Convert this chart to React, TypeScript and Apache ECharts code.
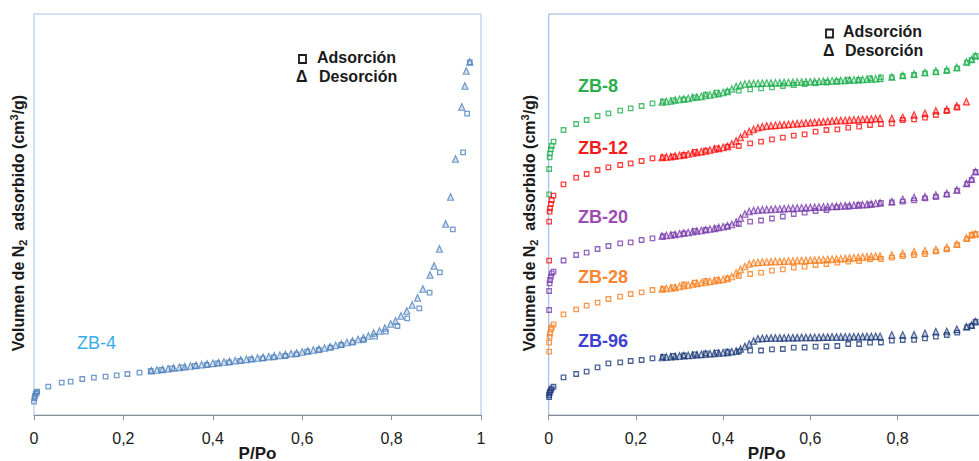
import React, { useEffect, useRef } from 'react';
import * as echarts from 'echarts';

// ---------- Left chart: ZB-4 ----------
const ADS_P_L = [0, 0.001, 0.002, 0.004, 0.006, 0.007, 0.032, 0.062, 0.082, 0.108, 0.134, 0.160, 0.185, 0.209, 0.236, 0.261, 0.285, 0.309, 0.333, 0.360, 0.386, 0.410, 0.436, 0.461, 0.485, 0.511, 0.536, 0.562, 0.587, 0.611, 0.637, 0.663, 0.687, 0.713, 0.737, 0.763, 0.787, 0.813, 0.835, 0.862, 0.885, 0.908, 0.937, 0.960, 0.969, 0.975];
const ZB4_ADS = [13.3, 16.7, 19, 21, 22.3, 23.3, 28.3, 32.3, 33.3, 36, 37.3, 38.3, 39.7, 41, 42.3, 44, 45, 46.7, 47.7, 49, 50, 51.7, 52.7, 54, 55.7, 56.7, 57.7, 59, 60.7, 63.3, 65, 67.3, 70, 72.3, 75, 78.3, 83.3, 89, 96.7, 106.7, 122.3, 142.7, 185.7, 262.7, 301.3, 352.7];
const DES_P_L = [0.2625, 0.275, 0.2875, 0.300, 0.3125, 0.325, 0.3375, 0.350, 0.3625, 0.375, 0.3875, 0.400, 0.4125, 0.425, 0.4375, 0.450, 0.4625, 0.475, 0.4875, 0.500, 0.5125, 0.525, 0.5375, 0.550, 0.5625, 0.575, 0.5875, 0.600, 0.6125, 0.625, 0.6375, 0.650, 0.6625, 0.675, 0.6875, 0.700, 0.7125, 0.725, 0.737, 0.748, 0.760, 0.773, 0.785, 0.798, 0.809, 0.821, 0.834, 0.846, 0.858, 0.870, 0.886, 0.895, 0.907, 0.921, 0.932, 0.943, 0.957, 0.964, 0.967, 0.975];
const ZB4_DES = [44.3, 45, 45.7, 46.3, 47, 47.7, 48.3, 49, 49.7, 50.3, 51, 51.7, 52.3, 53, 53.7, 54.3, 55, 55.7, 56.3, 57, 57.7, 58.3, 59, 59.7, 60.5, 61.3, 62, 63, 64, 65, 66, 67, 68.3, 69.5, 71, 72.5, 74, 75.5, 77, 79, 82, 84, 87, 91, 94, 99, 104, 110, 117, 126, 140, 149, 166, 191, 218, 256, 308, 329, 344, 353];

// ---------- Right chart: ZB-8 / 12 / 20 / 28 / 96 ----------
const ADS_P_R = [0.001, 0.001, 0.002, 0.003, 0.005, 0.007, 0.011, 0.034, 0.063, 0.087, 0.112, 0.137, 0.164, 0.188, 0.213, 0.238, 0.262, 0.286, 0.310, 0.335, 0.360, 0.385, 0.410, 0.436, 0.462, 0.487, 0.512, 0.537, 0.562, 0.587, 0.612, 0.637, 0.662, 0.687, 0.712, 0.737, 0.762, 0.787, 0.812, 0.838, 0.863, 0.888, 0.913, 0.937, 0.960, 0.970, 0.979];
const ZB8_ADS = [220.7, 246, 257.7, 261.7, 265.7, 269, 273.3, 285, 291, 295, 299, 301.7, 304.3, 306.7, 309, 311.7, 313.3, 314.7, 315.7, 317.7, 320.3, 322.3, 323.3, 324.3, 325.7, 326.7, 327.7, 329, 330, 331, 331.7, 332.5, 333.5, 335, 335, 336.7, 337.7, 337.7, 339, 340, 341.7, 342.7, 344, 346.7, 352.3, 355, 359];
const ZB12_ADS = [154.3, 193.3, 203.3, 206.7, 211, 215, 219.3, 230.7, 237.3, 241, 245, 247.7, 250, 251.7, 254, 256.7, 257.7, 258.3, 260, 263, 264.3, 266.7, 268.3, 269, 271.7, 273.3, 275.7, 277.3, 279.3, 280.7, 283.3, 285, 285.7, 287.3, 288.3, 290, 291, 291.7, 295, 295.7, 297.3, 300, 304, 307.5, null, null, null];
const ZB20_ADS = [105, 124, 131.7, 135, 138.3, 141.7, 143.3, 154.5, 160, 162.3, 166, 169, 171.7, 172.7, 175, 176.7, 178.5, 180.3, 181.7, 184, 185, 186.7, 188.3, 191, 193.3, 194.5, 196.5, 198.5, 201, 202.3, 204, 205, 207.7, 208.3, 210, 210.5, 212, 212.7, 213.3, 214.7, 216.7, 218, 220.3, 224.3, 231, 235, 243];
const ZB28_ADS = [63.3, 72.3, 78.3, 81.7, 85.7, 87.7, 90.7, 100.7, 105.7, 109.3, 112.3, 116, 118.3, 121, 122.7, 125, 126, 127.7, 130.5, 132.3, 134, 135, 136.7, 139, 141, 142.3, 144.3, 145.7, 147.3, 148.3, 150, 151, 152.3, 153.3, 154, 155.7, 156, 157.3, 159, 160, 161, 163.3, 165.7, 170, 176, 180, 181];
const ZB96_ADS = [18, 20, 22, 23.3, 25, 26.7, 28.3, 37.7, 41, 43.3, 47.7, 51.7, 52.7, 54, 55, 56.7, 58, 59, 59.5, 60.7, 61.7, 62.3, 63.3, 63.5, 64.3, 64.5, 65.7, 66, 67.3, 67.5, 68.3, 68.5, 69, 71, 71, 72.3, 72.5, 74.3, 75, 75.2, 76.7, 78.3, 80, 82.3, 87.7, 89, 93.3];

const DES_P_R = [0.26, 0.27, 0.28, 0.29, 0.30, 0.31, 0.32, 0.33, 0.34, 0.35, 0.36, 0.37, 0.38, 0.39, 0.40, 0.41, 0.42, 0.43, 0.44, 0.45, 0.46, 0.47, 0.48, 0.49, 0.50, 0.51, 0.52, 0.53, 0.54, 0.55, 0.56, 0.57, 0.58, 0.59, 0.60, 0.61, 0.62, 0.63, 0.64, 0.65, 0.66, 0.67, 0.68, 0.69, 0.70, 0.71, 0.72, 0.73, 0.74, 0.75, 0.76, 0.787, 0.812, 0.838, 0.863, 0.888, 0.913, 0.936, 0.958, 0.970, 0.979];
const ZB8_DES = [313, 313.5, 314, 315, 315.5, 316, 316.7, 317.5, 318, 318.7, 319.5, 320, 321, 321.7, 322.5, 323.5, 326, 328.5, 330, 331, 331.3, 331.5, 331.7, 331.8, 332, 332, 332.2, 332.3, 332.5, 332.7, 332.8, 333, 333, 333.2, 333.3, 333.5, 333.7, 333.8, 334, 334.2, 334.3, 334.5, 334.7, 335, 335.2, 335.3, 335.5, 335.8, 336, 336.3, 336.7, 338, 339.5, 341, 342.5, 344, 345.3, 347.5, 353, 355.5, 359];
const ZB12_DES = [257.7, 258, 258.3, 259, 259.5, 260, 261, 262, 262.7, 263.3, 264, 265, 266, 266.7, 267.5, 268.5, 271, 274, 277.5, 281, 283.5, 285.5, 287.3, 288.3, 289, 289.3, 289.7, 290, 290.3, 290.7, 291, 291.3, 291.7, 292, 292.3, 292.7, 293, 293.3, 293.7, 294, 294.3, 294.5, 294.7, 295, 295.2, 295.4, 295.6, 295.8, 296, 296.3, 296.7, 296.5, 297.7, 300, 301.7, 304.3, 305.7, 309, 313.3, null, null];
const ZB20_DES = [179, 179.5, 180, 180.5, 181.3, 182, 182.5, 183.3, 184, 184.5, 185.3, 186, 186.7, 187.5, 188.3, 189.3, 190.5, 193, 197, 201, 203.5, 204.5, 205, 205.3, 205.5, 205.7, 206, 206.2, 206.4, 206.6, 206.8, 207, 207.2, 207.4, 207.6, 207.8, 208, 208.2, 208.4, 208.6, 208.8, 209, 209.3, 209.5, 209.8, 210, 210.3, 210.6, 211, 211.5, 212, 213.3, 215.7, 217.7, 218.3, 220, 221.7, 225, 231.5, 236, 243.3];
const ZB28_DES = [126, 126.5, 127, 127.7, 128.5, 129.3, 130, 131, 131.7, 132.3, 133, 133.7, 134.3, 135, 135.7, 136.5, 138.5, 142, 145.5, 148.5, 151, 152.3, 152.7, 153, 153.2, 153.3, 153.5, 153.6, 153.8, 154, 154.1, 154.3, 154.5, 154.6, 154.8, 155, 155.2, 155.4, 155.6, 155.8, 156, 156.3, 156.6, 157, 157.3, 157.6, 158, 158.3, 158.6, 158.8, 159, 160, 161.7, 163.3, 164.3, 165.7, 167.7, 171, 177, 180, 181];
const ZB96_DES = [57.5, 58, 58.3, 58.7, 59, 59.3, 59.7, 60, 60.3, 60.7, 61, 61.3, 61.7, 62, 62.3, 62.7, 63.3, 64, 66, 68.5, 71, 74, 76.3, 76.7, 76.8, 77, 77, 77.1, 77.2, 77.3, 77.3, 77.4, 77.5, 77.5, 77.6, 77.7, 77.7, 77.8, 77.9, 78, 78, 78.1, 78.2, 78.2, 78.3, 78.3, 78.4, 78.5, 78.5, 78.6, 78.7, 80, 80, 80.3, 81.7, 83.3, 83.5, 85.7, 88.3, 90, 93.3];

const X_TICK_LABELS = ['0', '0,2', '0,4', '0,6', '0,8', '1'];
const SERIES_NAMES_R = ['ZB-8', 'ZB-12', 'ZB-20', 'ZB-28', 'ZB-96'];
const LEGEND_TEXT = ['Adsorción', 'Desorción'];

function pairs(xs: number[], ys: (number | null)[]) {
  const out: number[][] = [];
  for (let i = 0; i < xs.length; i++) {
    const y = ys[i];
    if (y !== null && y !== undefined) out.push([xs[i], y]);
  }
  return out;
}

const FONT = '"Liberation Sans", Arial, Helvetica, sans-serif';

function hexA(hex: string, a: number) {
  const n = parseInt(hex.slice(1), 16);
  return `rgba(${(n >> 16) & 255},${(n >> 8) & 255},${n & 255},${a})`;
}

export default function App() {
  const ref = useRef<HTMLDivElement>(null);

  useEffect(() => {
    if (!ref.current) return;
    const chart = echarts.init(ref.current, null, { renderer: 'svg' });

    const xAxis = (gi: number, nameGap: number, showMax: boolean) => ({
      type: 'value',
      gridIndex: gi,
      min: 0,
      max: 1,
      interval: 0.2,
      name: 'P/Po',
      nameLocation: 'middle',
      nameGap,
      nameMoveOverlap: false,
      nameTextStyle: { fontFamily: FONT, fontSize: 17, lineHeight: 17, fontWeight: 'bold', color: '#1a1a1a', verticalAlign: 'top' },
      axisLine: { show: true, onZero: false, lineStyle: { color: '#8c8c8c', width: 1 } },
      axisTick: { show: true, length: 5, lineStyle: { color: '#8c8c8c' } },
      axisLabel: {
        margin: 15,
        fontFamily: FONT,
        fontSize: 16,
        color: '#1a1a1a',
        showMaxLabel: showMax,
        formatter: (v: number) => X_TICK_LABELS[Math.round(v / 0.2)],
      },
      splitLine: { show: false },
    });
    const yAxis = (gi: number) => ({
      type: 'value', gridIndex: gi, min: 0, max: 401, show: false, splitLine: { show: false },
    });

    const sq = (name: string, gi: number, data: number[][], color: string) => ({
      type: 'scatter', name, xAxisIndex: gi, yAxisIndex: gi, data,
      symbol: 'rect', symbolSize: 4.5, silent: true, z: 2,
      itemStyle: { color: 'rgba(255,255,255,0)', borderColor: color, borderWidth: 1.3 },
    });
    const tri = (name: string, gi: number, data: number[][], color: string) => ({
      type: 'scatter', name, xAxisIndex: gi, yAxisIndex: gi, data,
      symbol: 'triangle', symbolSize: [6, 6.5], silent: true, z: 3,
      itemStyle: { color: hexA(color, 0.3), borderColor: color, borderWidth: 1.2 },
    });

    const C4 = '#4F81BD';
    const C8 = '#1FAF4F';
    const C12 = '#FF1010';
    const C20 = '#7A3DAD';
    const C28 = '#F7801F';
    const C96 = '#1F3C7A';

    const richY = {
      b: { fontFamily: FONT, fontSize: 16, fontWeight: 'bold', fill: '#1a1a1a', lineHeight: 20 },
      sub: { fontFamily: FONT, fontSize: 11, fontWeight: 'bold', fill: '#1a1a1a', lineHeight: 10, verticalAlign: 'bottom' },
      sup: { fontFamily: FONT, fontSize: 11, fontWeight: 'bold', fill: '#1a1a1a', lineHeight: 10, verticalAlign: 'top' },
    };
    const yTitle = (x: number, y: number) => ({
      type: 'text', x, y, rotation: Math.PI / 2, z: 10,
      style: {
        text: '{b|Volumen de N}{sub|2}{b|  adsorbido (cm}{sup|3}{b|/g)}',
        rich: richY,
        align: 'center', verticalAlign: 'middle',
      },
    });
    const label = (text: string, x: number, y: number, color: string, bold: boolean) => ({
      type: 'text', x, y, z: 10,
      style: {
        text, fill: color, fontFamily: FONT, fontSize: 18, fontWeight: bold ? 'bold' : 'normal',
        align: 'left', verticalAlign: 'middle',
      },
    });
    const legend = (sx: number, sy: number, tx: number, ty1: number, dx: number, ty2: number) => [
      { type: 'rect', z: 10, shape: { x: sx, y: sy, width: 7, height: 8 }, style: { fill: 'none', stroke: '#1a1a1a', lineWidth: 1.8 } },
      { type: 'text', z: 10, x: tx, y: ty1, style: { text: LEGEND_TEXT[0], fill: '#1a1a1a', fontFamily: FONT, fontSize: 16, fontWeight: 'bold', align: 'left', verticalAlign: 'middle' } },
      { type: 'text', z: 10, x: dx, y: ty2, style: { text: 'Δ', fill: '#1a1a1a', fontFamily: FONT, fontSize: 16, fontWeight: 'bold', align: 'left', verticalAlign: 'middle' } },
      { type: 'text', z: 10, x: tx + 2, y: ty2, style: { text: LEGEND_TEXT[1], fill: '#1a1a1a', fontFamily: FONT, fontSize: 16, fontWeight: 'bold', align: 'left', verticalAlign: 'middle' } },
    ];

    chart.setOption({
      animation: false,
      backgroundColor: '#ffffff',
      grid: [
        { left: 34, top: 14, width: 447, height: 401, show: true, borderColor: '#A9C3E8', borderWidth: 1, backgroundColor: 'rgba(0,0,0,0)', containLabel: false, outerBoundsMode: 'none' },
        { left: 548.7, top: 14, width: 436, height: 401, show: true, borderColor: '#93B3E0', borderWidth: 1, backgroundColor: 'rgba(0,0,0,0)', containLabel: false, outerBoundsMode: 'none' },
      ],
      xAxis: [xAxis(0, 30, true), xAxis(1, 30, false)],
      yAxis: [yAxis(0), yAxis(1)],
      series: [
        sq('ZB-4 ads', 0, pairs(ADS_P_L, ZB4_ADS), C4),
        tri('ZB-4 des', 0, pairs(DES_P_L, ZB4_DES), C4),
        sq('ZB-8 ads', 1, pairs(ADS_P_R, ZB8_ADS), C8),
        tri('ZB-8 des', 1, pairs(DES_P_R, ZB8_DES), C8),
        sq('ZB-12 ads', 1, pairs(ADS_P_R, ZB12_ADS), C12),
        tri('ZB-12 des', 1, pairs(DES_P_R, ZB12_DES), C12),
        sq('ZB-20 ads', 1, pairs(ADS_P_R, ZB20_ADS), C20),
        tri('ZB-20 des', 1, pairs(DES_P_R, ZB20_DES), C20),
        sq('ZB-28 ads', 1, pairs(ADS_P_R, ZB28_ADS), C28),
        tri('ZB-28 des', 1, pairs(DES_P_R, ZB28_DES), C28),
        sq('ZB-96 ads', 1, pairs(ADS_P_R, ZB96_ADS), C96),
        tri('ZB-96 des', 1, pairs(DES_P_R, ZB96_DES), C96),
      ],
      graphic: [
        yTitle(18, 223),
        yTitle(529, 223),
        label('ZB-4', 77, 343, '#36AEEA', false),
        label(SERIES_NAMES_R[0], 578, 86, '#2AAE4C', true),
        label(SERIES_NAMES_R[1], 578, 148, '#F21C1C', true),
        label(SERIES_NAMES_R[2], 578, 217, '#9C4DB4', true),
        label(SERIES_NAMES_R[3], 578, 277, '#FB8430', true),
        label(SERIES_NAMES_R[4], 578, 341, '#3D40D3', true),
        ...legend(299, 55, 317, 57, 296, 76),
        ...legend(826, 29.5, 843, 31, 823, 50),
      ],
    });

    return () => chart.dispose();
  }, []);

  return <div ref={ref} style={{ position: 'fixed', left: 0, top: 0, width: 979, height: 461 }} />;
}
